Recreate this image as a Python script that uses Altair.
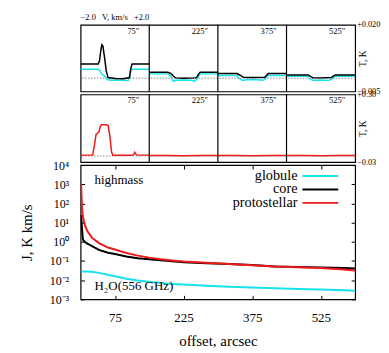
import altair as alt
import pandas as pd

FONT = "Liberation Serif"
CYAN = "#17e3ea"
RED = "#ee1a1a"
BLACK = "#000000"

positions = ['75"', '225"', '375"', '525"']

# ---- top row: globule (cyan) and core (black) spectra, T [K] vs V [km/s]
core_75_v = [-2.0, -0.97, -0.9, -0.82, -0.76, -0.7, -0.6, -0.5, -0.4, 0.0, 0.5, 0.85, 0.92, 1.0, 2.0]
core_75_T = [0.0053, 0.0053, 0.0065, 0.0105, 0.0125, 0.012, 0.0075, 0.0025, 0.0002, -0.0001, -0.0002, 0.0002, 0.0035, 0.0053, 0.0053]
glob_75_v = [-2.0, -0.97, -0.85, -0.78, -0.6, -0.43, -0.2, 0.2, 0.6, 0.8, 0.88, 0.97, 2.0]
glob_75_T = [0.0033, 0.0033, 0.0025, 0.0016, 0.0008, -0.0006, -0.0008, -0.0007, -0.0009, -0.0008, 0.0015, 0.0033, 0.0033]

core_225_v = [-2.0, -0.92, -0.75, -0.6, -0.47, 0.0, 0.7, 0.78, 0.88, 0.97, 2.0]
core_225_T = [0.0022, 0.0022, 0.0018, 0.0008, 0.0001, 0.0, 0.0001, 0.0004, 0.0016, 0.0022, 0.0022]
glob_225_v = [-2.0, -0.92, -0.75, -0.6, -0.45, 0.0, 0.45, 0.62, 0.78, 0.9, 0.97, 2.0]
glob_225_T = [0.0016, 0.0016, 0.0008, -0.0012, -0.0008, -0.0007, -0.0008, -0.0012, -0.0004, 0.0012, 0.0016, 0.0016]

core_375_v = [-2.0, -0.9, -0.7, -0.51, 0.0, 0.74, 0.84, 0.94, 2.0]
core_375_T = [0.0017, 0.0017, 0.0011, 0.0003, 0.0002, 0.0003, 0.0011, 0.0017, 0.0017]
glob_375_v = [-2.0, -0.9, -0.72, -0.55, -0.3, 0.3, 0.6, 0.74, 0.85, 0.94, 2.0]
glob_375_T = [0.0010, 0.0010, -0.0003, -0.0009, -0.0006, -0.0006, -0.0008, -0.0005, 0.0006, 0.0010, 0.0010]

core_525_v = [-2.0, -0.74, -0.6, -0.45, 0.0, 0.61, 0.74, 0.86, 2.0]
core_525_T = [0.0012, 0.0012, 0.0007, 0.0001, 0.0001, 0.0002, 0.0008, 0.0012, 0.0012]
glob_525_v = [-2.0, -0.74, -0.6, -0.45, 0.0, 0.45, 0.61, 0.74, 0.86, 2.0]
glob_525_T = [0.0007, 0.0007, -0.0004, -0.0009, -0.0007, -0.0009, -0.0005, 0.0003, 0.0007, 0.0007]

# ---- second row: protostellar (red) spectra
proto_75_v = [-2.0, -1.3, -1.2, -1.1, -1.0, -0.92, -0.85, -0.78, -0.5, -0.4, -0.3, -0.2, -0.12, 1.0, 1.1, 1.15, 1.22, 1.3, 2.0]
proto_75_T = [0.004, 0.004, 0.05, 0.105, 0.112, 0.12, 0.145, 0.152, 0.152, 0.148, 0.10, 0.02, 0.003, 0.003, 0.008, 0.018, 0.009, 0.004, 0.004]
proto_225_v = [-2.0, -1.0, 0.0, 1.0, 2.0]
proto_225_T = [0.002, 0.002, 0.0015, 0.002, 0.002]
proto_375_v = [-2.0, -1.0, 0.0, 1.0, 2.0]
proto_375_T = [0.002, 0.002, 0.0015, 0.002, 0.002]
proto_525_v = [-2.0, -1.0, 0.0, 1.0, 2.0]
proto_525_T = [0.002, 0.002, 0.0015, 0.002, 0.002]

# ---- bottom: integrated intensity J [K km/s] vs offset [arcsec]
offsets = [1, 3, 5, 10, 15, 25, 40, 60, 75, 100, 125, 150, 175, 200, 225, 275, 325, 375, 425, 475, 525, 575, 600]
J_proto = [1000, 60, 20, 6.5, 3.5, 1.6, 0.85, 0.5, 0.4, 0.26, 0.19, 0.15, 0.123, 0.107, 0.095, 0.081, 0.069, 0.060, 0.052, 0.047, 0.043, 0.036, 0.032]
J_core = [25, 5, 1.3, 0.95, 0.8, 0.6, 0.38, 0.27, 0.23, 0.17, 0.14, 0.123, 0.11, 0.098, 0.087, 0.076, 0.069, 0.062, 0.051, 0.048, 0.046, 0.043, 0.041]
J_glob = [0.028, 0.028, 0.028, 0.028, 0.028, 0.0275, 0.024, 0.019, 0.016, 0.012, 0.0095, 0.0082, 0.0071, 0.0064, 0.0059, 0.0051, 0.0046, 0.0042, 0.0038, 0.0035, 0.0033, 0.003, 0.0028]

series_names = ["globule", "core", "protostellar"]
series_colors = [CYAN, BLACK, RED]
cscale = alt.Scale(domain=series_names, range=series_colors)

W = 276


def spec_row(curves, ydom, right_labels, ph, head=False):
    rows = []
    for p, name, v, t in curves:
        for vv, tt in zip(v, t):
            rows.append({"p": p, "series": name, "key": f"{name}{p}", "v": vv, "T": tt})
    df = pd.DataFrame(rows)
    xenc = alt.X("x:Q", scale=alt.Scale(domain=[0, 16]), axis=None)
    yenc = alt.Y("T:Q", scale=alt.Scale(domain=ydom),
                 axis=alt.Axis(values=ydom,
                               labelExpr=f"datum.value > 0 ? '{right_labels[1]}' : '{right_labels[0]}'",
                               orient="right", ticks=False, domain=False, grid=False, labelPadding=1.5,
                               labelFontSize=8.3, title="T, K", titleFontSize=9.5, titleAngle=270,
                               titleX=7, titleY=ph / 2, titleBaseline="middle", titleAlign="center"))
    zero = alt.Chart(pd.DataFrame({"T": [0]})).mark_rule(
        color="#888888", strokeDash=[1.5, 1.5], strokeWidth=1).encode(y=yenc)
    lines = alt.Chart(df).transform_calculate(x="datum.v + 2 + 4 * datum.p").mark_line(
        strokeWidth=1.5, clip=True).encode(
        x=xenc, y=yenc, color=alt.Color("series:N", scale=cscale, legend=None),
        detail="key:N", order="x:Q")
    seps = alt.Chart(pd.DataFrame({"x": [4, 8, 12]})).mark_rule(color="black", strokeWidth=1.2).encode(x=xenc)
    lab = alt.Chart(pd.DataFrame({"x": [4, 8, 12, 16], "T": [ydom[1]] * 4, "s": positions})).mark_text(
        align="right", baseline="middle", dx=-10, dy=6, fontSize=8.5, font=FONT).encode(x=xenc, y=yenc, text="s:N")
    layers = [zero, lines, seps, lab]
    if head:
        hd = pd.DataFrame({"x": [0, 2, 4], "T": [ydom[1]] * 3, "s": ["\u22122.0", "V, km/s", "+2.0"]})
        for i, al in enumerate(["left", "center", "right"]):
            layers.append(alt.Chart(hd.iloc[[i]]).mark_text(
                align=al, baseline="middle", dy=-8, fontSize=8.5, font=FONT).encode(x=xenc, y=yenc, text="s:N"))
    return alt.layer(*layers).properties(width=W, height=ph)


row1 = spec_row(
    [(i, "globule", glob_v, glob_t) for i, (glob_v, glob_t) in enumerate(
        [(glob_75_v, glob_75_T), (glob_225_v, glob_225_T), (glob_375_v, glob_375_T), (glob_525_v, glob_525_T)])] +
    [(i, "core", core_v, core_t) for i, (core_v, core_t) in enumerate(
        [(core_75_v, core_75_T), (core_225_v, core_225_T), (core_375_v, core_375_T), (core_525_v, core_525_T)])],
    [-0.005, 0.020], ["\u22120.005", "+0.020"], 67, head=True)

row2 = spec_row(
    [(i, "protostellar", pv, pt) for i, (pv, pt) in enumerate(
        [(proto_75_v, proto_75_T), (proto_225_v, proto_225_T), (proto_375_v, proto_375_T), (proto_525_v, proto_525_T)])],
    [-0.03, 0.30], ["\u22120.03", "+0.30"], 68)

# ---- bottom panel
rows = []
for name, vals in zip(series_names, [J_glob, J_core, J_proto]):
    for o, j in zip(offsets, vals):
        rows.append({"offset": o, "J": j, "series": name})
bdf = pd.DataFrame(rows)

sup = {4: "\u2074", 3: "\u00b3", 2: "\u00b2", 1: "\u00b9", 0: "\u2070",
       -1: "\u207b\u00b9", -2: "\u207b\u00b2", -3: "\u207b\u00b3"}
e = "round(log(datum.value)/LN10)"
label_expr = "".join(f"{e} == {k} ? '10{s}' : " for k, s in sup.items()) + "''"
xticks = [75, 225, 375, 525]
yticks = [1e-3, 1e-2, 1e-1, 1, 10, 100, 1e3, 1e4]
xscale = alt.Scale(domain=[0, 600])
yscale = alt.Scale(type="log", domain=[1e-3, 1e4])

xb = alt.X("offset:Q", scale=xscale,
           axis=alt.Axis(values=xticks, title="offset, arcsec", grid=False, domain=False,
                         offset=-4, tickSize=4, tickColor="black", labelPadding=12, labelFontSize=13,
                         titleFontSize=15, titlePadding=9))
yb = alt.Y("J:Q", scale=yscale,
           axis=alt.Axis(values=yticks, labelExpr=label_expr,
                         title="J, K km/s", grid=False, domain=False, offset=-4, tickSize=4,
                         tickColor="black", labelPadding=12, labelFontSize=12, titleFontSize=15,
                         titlePadding=15))
lines = alt.Chart(bdf).mark_line(strokeWidth=2, clip=True).encode(
    x=xb, y=yb, color=alt.Color("series:N", scale=cscale, legend=None), detail="series:N")

mirror = alt.Chart(bdf).mark_line(opacity=0).encode(
    x=alt.X("offset:Q", scale=xscale,
            axis=alt.Axis(orient="top", values=xticks, labels=False, title=None, grid=False, domain=False,
                          offset=-4, tickSize=4, tickColor="black")),
    y=alt.Y("J:Q", scale=yscale,
            axis=alt.Axis(orient="right", values=yticks, labels=False, title=None, grid=False, domain=False,
                          offset=-4, tickSize=4, tickColor="black")),
    detail="series:N")

one = pd.DataFrame({"a": [0]})
blayers = [lines, mirror]
for k, (name, col) in enumerate(zip(series_names, series_colors)):
    yy = 11 + 13.5 * k
    blayers.append(alt.Chart(one).mark_text(align="right", baseline="middle", fontSize=14.3, font=FONT).encode(
        x=alt.value(218), y=alt.value(yy), text=alt.value(name)))
    blayers.append(alt.Chart(one).mark_rule(color=col, strokeWidth=2).encode(
        x=alt.value(223), x2=alt.value(259), y=alt.value(yy)))
blayers.append(alt.Chart(one).mark_text(align="left", baseline="middle", fontSize=13, font=FONT).encode(
    x=alt.value(14), y=alt.value(15), text=alt.value("highmass")))
blayers.append(alt.Chart(one).mark_text(align="left", baseline="middle", fontSize=13, font=FONT).encode(
    x=alt.value(14), y=alt.value(122), text=alt.value("H\u2082O(556 GHz)")))

bottom = alt.layer(*blayers).resolve_scale(x="independent", y="independent").properties(width=W, height=135)

chart = alt.vconcat(row1, row2, bottom, spacing=3, bounds="flush").properties(
    padding={"left": 10, "top": 3, "right": 0, "bottom": 0}
).configure(font=FONT).configure_view(stroke="black", strokeWidth=1.2).configure_axis(
    labelFont=FONT, titleFont=FONT, labelColor="black", titleColor="black", titleFontWeight="normal")

chart.save("out.html", embed_options={"renderer": "svg", "actions": False})
